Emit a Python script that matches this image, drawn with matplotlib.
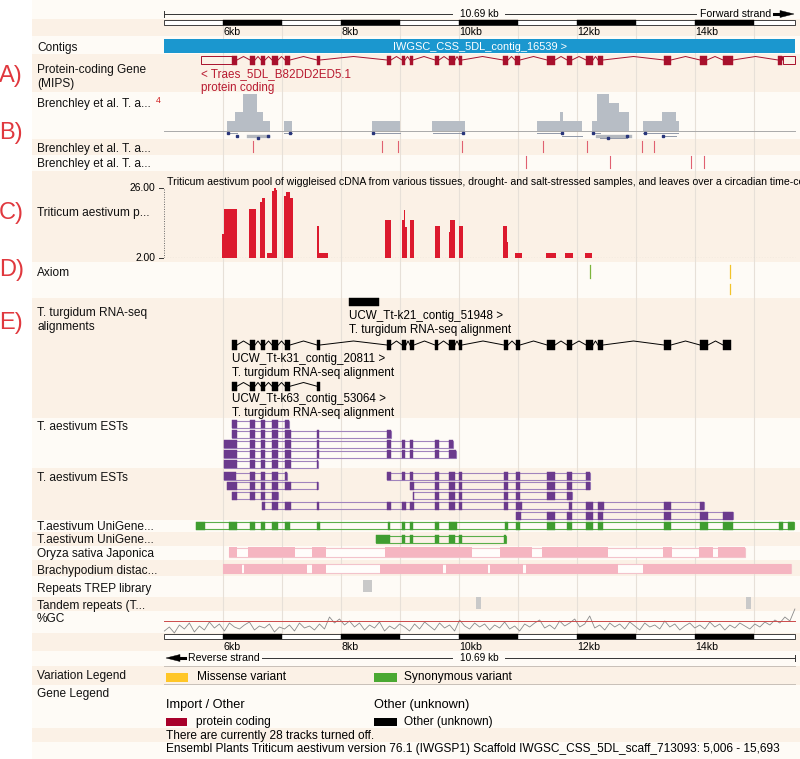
import matplotlib
matplotlib.use('Agg')
import matplotlib.pyplot as plt
from matplotlib.patches import Rectangle, Polygon
import numpy as np

plt.rcParams['font.family'] = ['Liberation Sans', 'DejaVu Sans']

# ---------------- layout helpers (pixel -> kb on the 59 px/kb scale) -------------
def kb(px):
    return 6 + (px - 223) / 59.0

# ---------------- data ----------------
REGION = (5.006, 15.693)
TICKS_KB = [6, 8, 10, 12, 14]
TICK_LABELS = ['6kb', '8kb', '10kb', '12kb', '14kb']
RULER_BLACK = [(6, 7), (8, 9), (10, 11), (12, 13), (14, 15)]
GRID_KB = [6, 7, 8, 9, 10, 11, 12, 13, 14, 15]
LENGTH_LABEL = '10.69 kb'

CONTIG_NAME = 'IWGSC_CSS_5DL_contig_16539 >'

GENE_NAME = '< Traes_5DL_B82DD2ED5.1'
GENE_BIOTYPE = 'protein coding'
GENE_UTR = [(5.627, 6.153), (15.492, 15.690)]
GENE_EXONS = [(6.153, 6.237), (6.458, 6.542), (6.644, 6.712), (6.831, 6.932), (7.051, 7.136),
              (7.593, 7.644), (8.780, 8.847), (9.034, 9.085), (9.169, 9.220), (9.593, 9.661),
              (9.831, 9.932), (10.000, 10.051), (10.746, 10.831), (10.949, 11.034), (11.492, 11.627),
              (11.831, 11.915), (12.153, 12.271), (12.356, 12.441), (13.475, 13.593), (14.085, 14.203),
              (14.475, 14.644), (15.407, 15.475)]

# Brenchley coverage (start kb, end kb, depth)
COV_START = [6.068, 6.204, 6.339, 6.576, 6.678, 7.034, 8.525, 9.542, 11.322, 11.712, 11.763,
             12.254, 12.339, 12.542, 12.712, 13.119, 13.441, 13.678]
COV_END = [6.204, 6.339, 6.576, 6.678, 6.797, 7.169, 9.000, 10.102, 11.712, 11.763, 12.085,
           12.339, 12.542, 12.712, 12.881, 13.441, 13.678, 13.729]
COV_DEPTH = [1, 2, 4, 2, 1, 1, 1, 1, 1, 2, 1, 1, 4, 3, 2, 1, 2, 1]

READ_START = [6.085, 6.424, 7.034, 8.525, 9.559, 11.322, 11.746, 12.254, 12.339, 12.390, 13.119, 13.458]
READ_END = [6.237, 6.763, 7.169, 9.000, 10.068, 11.746, 12.085, 12.390, 12.898, 12.847, 13.712, 13.678]
READ_ROW = [0, 1, 0, 0, 0, 0, 1, 0, 1, 2, 0, 1]
READ_THICK = [0, 1, 0, 0, 0, 0, 0, 0, 1, 0, 0, 0]
READ_DOTS = [6.085, 6.237, 6.593, 6.763, 7.136, 8.542, 10.068, 11.746, 12.271, 12.525, 12.847,
             13.153, 13.458]
READ_DOT_ROW = [0, 1, 2, 1, 0, 0, 0, 0, 0, 2, 1, 0, 1]

SNP_TRACK2 = [6.508, 8.695, 8.966, 10.051, 11.424, 12.169, 13.102, 13.305]
SNP_TRACK3 = [11.136, 12.559, 13.932, 14.153]

# Wiggle cDNA track (start kb, end kb, value)
WIG_START = [5.983, 6.017, 6.441, 6.627, 6.661, 6.746, 6.831, 6.865, 6.898, 7.034, 7.068, 7.136,
             7.593, 7.627, 8.746, 9.034, 9.068, 9.085, 9.169, 9.593, 9.831, 9.848, 10.000,
             10.746, 10.814, 10.949, 11.475, 11.797, 12.136]
WIG_END = [6.017, 6.237, 6.559, 6.661, 6.712, 6.831, 6.865, 6.898, 6.915, 7.068, 7.136, 7.186,
           7.627, 7.780, 8.847, 9.068, 9.085, 9.119, 9.237, 9.678, 9.848, 9.932, 10.068,
           10.814, 10.831, 11.068, 11.644, 11.932, 12.254]
WIG_VALUE = [10.5, 18.8, 18.8, 21.4, 22.6, 3.9, 25.0, 26.2, 25.4, 23.4, 24.6, 22.8,
             13.1, 3.7, 15.1, 15.1, 18.6, 12.8, 15.1, 13.1, 11.0, 15.1, 13.1,
             13.1, 7.7, 3.7, 3.7, 3.7, 3.7]
WIG_TITLE = ('Triticum aestivum pool of wiggleised cDNA from various tissues, drought- and '
             'salt-stressed samples, and leaves over a circadian time-course')

AXIOM_SYNONYMOUS = [12.220]
AXIOM_MISSENSE = [14.593]

K21_EXONS = [(8.136, 8.644)]
K31_EXONS = [(6.153, 6.237), (6.458, 6.542), (6.644, 6.712), (6.831, 6.932), (7.051, 7.136),
             (7.593, 7.644), (8.780, 8.847), (9.034, 9.102), (9.169, 9.237), (9.593, 9.644),
             (9.831, 9.932), (10.000, 10.051), (10.763, 10.831), (10.966, 11.034), (11.492, 11.627),
             (11.831, 11.915), (12.153, 12.271), (12.356, 12.441), (13.475, 13.593), (14.085, 14.220),
             (14.475, 14.610)]
K63_EXONS = [(6.153, 6.237), (6.458, 6.542), (6.644, 6.712), (6.831, 6.932), (7.051, 7.136),
             (7.593, 7.644)]
RNA_NAMES = ['UCW_Tt-k21_contig_51948 >', 'UCW_Tt-k31_contig_20811 >', 'UCW_Tt-k63_contig_53064 >']
RNA_DESC = 'T. turgidum RNA-seq alignment'

EST_ROWS = [
    [[(6.153, 6.237), (6.458, 6.542), (6.644, 6.712), (6.831, 6.932), (7.051, 7.119)]],
    [[(6.153, 6.237), (6.458, 6.542), (6.644, 6.712), (6.831, 6.932), (7.051, 7.153), (7.593, 7.627),
      (8.780, 8.847)]],
    [[(6.017, 6.237), (6.458, 6.542), (6.644, 6.712), (6.831, 6.932), (7.051, 7.153), (7.593, 7.627),
      (8.780, 8.847), (9.034, 9.085), (9.169, 9.220), (9.593, 9.661), (9.831, 9.898)]],
    [[(6.017, 6.237), (6.458, 6.542), (6.644, 6.712), (6.831, 6.932), (7.051, 7.153), (7.593, 7.627),
      (8.780, 8.847), (9.034, 9.085), (9.169, 9.220), (9.593, 9.661), (9.831, 9.949)]],
    [[(6.017, 6.237), (6.458, 6.542), (6.644, 6.712), (6.831, 6.932), (7.051, 7.153), (7.593, 7.610)]],
    [[(6.017, 6.220), (6.458, 6.542), (6.644, 6.712), (6.831, 6.932), (7.051, 7.085)],
     [(8.780, 8.847), (9.034, 9.085), (9.169, 9.220), (9.593, 9.661), (9.831, 9.932), (10.000, 10.051),
      (10.763, 10.831), (10.966, 11.034), (11.492, 11.627), (11.831, 11.915), (12.153, 12.220)]],
    [[(6.068, 6.237), (6.458, 6.542), (6.644, 6.712), (6.831, 6.932), (7.051, 7.153), (7.593, 7.610)],
     [(9.169, 9.237), (9.593, 9.661), (9.831, 9.932), (10.000, 10.051), (10.763, 10.831),
      (10.966, 11.034), (11.492, 11.627), (11.831, 11.915), (12.153, 12.220)]],
    [[(6.153, 6.237), (6.458, 6.542), (6.644, 6.712), (6.831, 6.932)],
     [(9.220, 9.237), (9.593, 9.661), (9.831, 9.932), (10.000, 10.051), (10.763, 10.831),
      (10.966, 11.034), (11.492, 11.627), (11.831, 11.915)]],
    [[(6.661, 6.712), (6.831, 6.932), (7.051, 7.153), (7.593, 7.627), (8.780, 8.847), (9.034, 9.102),
      (9.169, 9.237), (9.593, 9.661), (9.831, 9.932), (10.000, 10.051), (10.763, 10.831),
      (10.966, 11.068), (11.864, 11.915), (12.153, 12.271), (12.356, 12.458), (13.475, 13.593),
      (14.085, 14.153)]],
    [[(10.966, 11.051), (11.492, 11.627), (11.831, 11.915), (12.153, 12.271), (12.356, 12.441),
      (13.475, 13.593), (14.085, 14.220), (14.475, 14.644)]],
]

UNIGENE1 = [(5.542, 5.695), (6.102, 6.237), (6.458, 6.542), (6.644, 6.712), (6.831, 6.932),
            (7.051, 7.136), (7.593, 7.644), (8.797, 8.831), (9.034, 9.085), (9.169, 9.220),
            (9.593, 9.661), (9.831, 9.966), (10.780, 10.831), (10.966, 11.034), (11.492, 11.627),
            (11.831, 11.915), (12.153, 12.271), (12.356, 12.441), (13.475, 13.593), (14.085, 14.220),
            (14.475, 14.644), (15.424, 15.492), (15.576, 15.678)]
UNIGENE2 = [(8.593, 8.831), (9.034, 9.085), (9.169, 9.220), (9.593, 9.661), (9.831, 9.932),
            (10.000, 10.051), (10.763, 10.797)]

ORYZA = [(6.102, 6.237), (6.424, 7.220), (7.508, 7.746), (8.746, 10.220), (10.695, 11.237),
         (11.407, 12.525), (13.458, 13.610), (14.068, 14.305), (14.390, 14.847)]
BRACHY = [(6.000, 6.322), (6.356, 7.424), (7.508, 7.746), (8.661, 9.729), (9.780, 10.492),
          (10.525, 11.085), (11.136, 12.695), (13.119, 15.627)]
REPEATS_TREP = [(8.373, 8.525)]
TANDEM = [(10.288, 10.373), (14.864, 14.949)]

GC_PCT = [36, 40, 34, 42, 38, 44, 35, 41, 37, 45, 39, 43, 36, 44, 40, 38, 42, 45, 37, 41, 39, 43, 35, 40,
          38, 42, 36, 44, 39, 41, 37, 43, 38, 50, 44, 48, 42, 46, 40, 44, 37, 42, 39, 45, 36, 41, 38, 43,
          40, 36, 43, 38, 45, 41, 37, 44, 39, 42, 36, 47, 41, 38, 44, 40, 43, 37, 42, 39,
          45, 38, 41, 36, 43, 40, 44, 47, 39, 42, 38, 46, 41, 44, 48, 40, 43, 51, 39, 42,
          37, 44, 40, 43, 38, 45, 41, 37, 44, 40, 42, 38, 46, 40, 43, 37, 41, 44, 39, 42,
          38, 45, 40, 43, 37, 42, 39, 44, 41, 38, 43, 40, 45, 42, 47, 44, 50, 46, 58]
GC_LINE = 46

TRACK_LABELS = [
    ('Contigs', 47.5), ('Protein-coding Gene', 70), ('(MIPS)', 84), ('Brenchley et al. T. a...', 104),
    ('Brenchley et al. T. a...', 149), ('Brenchley et al. T. a...', 164.5), ('Triticum aestivum p...', 213),
    ('Axiom', 273), ('T. turgidum RNA-seq', 313), ('alignments', 327), ('T. aestivum ESTs', 426.5),
    ('T. aestivum ESTs', 478), ('T.aestivum UniGene...', 526.5), ('T.aestivum UniGene...', 540),
    ('Oryza sativa Japonica', 554.5), ('Brachypodium distac...', 571), ('Repeats TREP library', 589),
    ('Tandem repeats (T...', 605.5), ('%GC', 619.5), ('Variation Legend', 676), ('Gene Legend', 693.5),
]
PANEL_LETTERS = [('A)', 76), ('B)', 133), ('C)', 213), ('D)', 270), ('E)', 323)]

# ---------------- colours ----------------
LIGHT = '#fefbf6'
DARK = '#fbf1e6'
GENE_RED = '#a8102c'
TEXT_RED = '#b81a30'
BAR_RED = '#dc1a2e'
PURPLE = '#6b3a8d'
PURPLE_EDGE = '#a184bd'
GREEN = '#3f9d30'
PINK = '#f5b5c1'
PINK_EDGE = '#f3c3cb'

BANDS = [(0, 19, 0), (19, 36, 1), (36, 54, 0), (54, 92, 1), (92, 139, 0), (139, 155, 1), (155, 171, 0),
         (171, 262, 1), (262, 298, 0), (298, 418, 1), (418, 468, 0), (468, 520, 1), (520, 532, 0),
         (532, 546, 1), (546, 560, 0), (560, 576, 1), (576, 597, 0), (597, 611, 1), (611, 633, 0),
         (633, 651, 1), (651, 666, 0), (666, 685, 1), (685, 728, 0), (728, 742, 1), (742, 759, 0)]

# ---------------- figure ----------------
W, H = 800, 759
fig = plt.figure(figsize=(W / 100, H / 100), dpi=100)
fig.patch.set_facecolor('white')
ax = fig.add_axes([0, 0, 1, 1])
ax.set_xlim(kb(0), kb(W))
ax.set_ylim(H, 0)
ax.axis('off')

FS = 8.6
LX = kb(37)

for y0, y1, d in BANDS:
    ax.add_patch(Rectangle((kb(32), y0), kb(W) - kb(32), y1 - y0, fc=DARK if d else LIGHT, ec='none', zorder=0))

for g in GRID_KB:
    ax.plot([g, g], [24, 633], color='#e7e0d8', lw=0.8, zorder=0.5)

for text, y in TRACK_LABELS:
    ax.text(LX, y, text, fontsize=FS, va='center', ha='left', color='#111111')
ax.text(kb(156), 100.5, '4', fontsize=6.2, color='#d02020', va='center', ha='left')
for text, y in PANEL_LETTERS:
    ax.text(kb(-1), y, text, fontsize=17, color='#e0383e', va='center', ha='left')

# ---------------- rulers ----------------
def ruler_bar(ytop):
    ax.add_patch(Rectangle((REGION[0], ytop), REGION[1] - REGION[0], 4.5, fc='white', ec='#222222', lw=0.6, zorder=2))
    for s, e in RULER_BLACK:
        ax.add_patch(Rectangle((s, ytop), min(e, REGION[1]) - s, 4.5, fc='black', ec='black', lw=0.3, zorder=2))

mid = (REGION[0] + REGION[1]) / 2
# top
ax.plot([REGION[0], REGION[0]], [11, 17], color='#333', lw=0.7)
ax.plot([REGION[0], kb(452)], [14, 14], color='#333', lw=0.7)
ax.plot([kb(505), kb(696)], [14, 14], color='#333', lw=0.7)
ax.text(mid, 14, LENGTH_LABEL, fontsize=7.3, ha='center', va='center')
ax.text(kb(700), 14, 'Forward strand', fontsize=7.6, ha='left', va='center')
ax.plot([kb(774), kb(784)], [14, 14], color='black', lw=2.2)
ax.add_patch(Polygon([(kb(780), 10.5), (kb(794), 14), (kb(780), 17.5)], closed=True, fc='black', ec='black', lw=0.3))
ruler_bar(20)
for t, lab in zip(TICKS_KB, TICK_LABELS):
    ax.text(t, 32, lab, fontsize=7.6, ha='left', va='center')
# bottom
ruler_bar(634)
for t, lab in zip(TICKS_KB, TICK_LABELS):
    ax.text(t, 647, lab, fontsize=7.6, ha='left', va='center')
ax.add_patch(Polygon([(kb(166), 658), (kb(180), 654.5), (kb(180), 661.5)], closed=True, fc='black', ec='black', lw=0.3))
ax.plot([kb(176), kb(185)], [658, 658], color='black', lw=2.2)
ax.text(kb(188), 658, 'Reverse strand', fontsize=7.6, ha='left', va='center')
ax.plot([kb(262), kb(452)], [658, 658], color='#333', lw=0.7)
ax.plot([kb(505), REGION[1]], [658, 658], color='#333', lw=0.7)
ax.plot([REGION[1], REGION[1]], [655, 661], color='#333', lw=0.7)
ax.text(mid, 658, LENGTH_LABEL, fontsize=7.3, ha='center', va='center')

# ---------------- contig ----------------
ax.add_patch(Rectangle((REGION[0], 39), REGION[1] - REGION[0], 14, fc='#1b97cf', ec='none', zorder=2))
ax.text(mid, 46.5, CONTIG_NAME, fontsize=7.9, color='white', ha='center', va='center', zorder=3)

# ---------------- transcript helper ----------------
def transcript(exons, ytop, h, color, lw=0.7, hollow=()):
    yc = ytop + h / 2
    for s, e in hollow:
        ax.add_patch(Rectangle((s, ytop + 0.5), e - s, h - 1, fc='none', ec=color, lw=0.7, zorder=3))
    for s, e in exons:
        ax.add_patch(Rectangle((s, ytop), e - s, h, fc=color, ec=color, lw=0.3, zorder=3))
    chain = sorted(list(exons) + list(hollow))
    for (s0, e0), (s1, e1) in zip(chain[:-1], chain[1:]):
        if s1 - e0 > 0.005:
            m = (e0 + s1) / 2
            ax.plot([e0, m, s1], [yc, ytop + 1, yc], color=color, lw=lw, zorder=3)

# gene
transcript(GENE_EXONS, 55.5, 9, GENE_RED, hollow=GENE_UTR)
ax.text(GENE_UTR[0][0], 74, GENE_NAME, fontsize=8.4, color=TEXT_RED, ha='left', va='center')
ax.text(GENE_UTR[0][0], 88, GENE_BIOTYPE, fontsize=8.4, color=TEXT_RED, ha='left', va='center')

# ---------------- Brenchley coverage ----------------
def inset(ybottom_px, height_px, ylim):
    a = fig.add_axes([0, 1 - ybottom_px / H, 1, height_px / H])
    a.set_xlim(kb(0), kb(W))
    a.set_ylim(*ylim)
    a.axis('off')
    a.patch.set_alpha(0)
    return a

axc = inset(130.5, 37, (0, 4.1))
axc.bar(COV_START, COV_DEPTH, width=np.array(COV_END) - np.array(COV_START), align='edge',
        color='#b7bdc5', edgecolor='none')
ax.plot([REGION[0], REGION[1]], [130.5, 130.5], color='#a9a9a9', lw=0.7, zorder=2)
row_y = [133, 135.5, 137.5]
for s, e, r, t in zip(READ_START, READ_END, READ_ROW, READ_THICK):
    y = row_y[r]
    ax.plot([s, e], [y, y], color='#b4b8be' if t else '#9098a8', lw=2.4 if t else 0.7, zorder=3)
for x, r in zip(READ_DOTS, READ_DOT_ROW):
    ax.plot([x], [row_y[r]], ls='none', marker='s', ms=1.7, color='#28357a', zorder=4)

for x in SNP_TRACK2:
    ax.plot([x, x], [141, 152], color='#e06070', lw=0.8)
for x in SNP_TRACK3:
    ax.plot([x, x], [156, 168], color='#e06070', lw=0.8)

# ---------------- wiggle cDNA ----------------
axw = inset(258.3, 70, (2, 26))
axw.bar(WIG_START, np.array(WIG_VALUE) - 2, width=np.array(WIG_END) - np.array(WIG_START), bottom=2,
        align='edge', color=BAR_RED, edgecolor='none')
axw.plot([REGION[0], REGION[1]], [2, 2], color='#888888', lw=0.8, ls=(0, (1, 1.5)))
axw.plot([REGION[0], REGION[0]], [2, 26], color='#666666', lw=0.7, ls=(0, (1, 1.5)))
for v in (26, 2):
    axw.text(kb(155), v, '%.2f' % v, fontsize=7.4, ha='right', va='center')
    axw.plot([kb(159), kb(163)], [v, v], color='#333', lw=0.7, clip_on=False)
ax.text(kb(167), 182, WIG_TITLE, fontsize=7.55, ha='left', va='center', clip_on=True)

# ---------------- Axiom ----------------
for x in AXIOM_SYNONYMOUS:
    ax.plot([x, x], [265, 278], color='#7db43c', lw=0.9)
for x in AXIOM_MISSENSE:
    ax.plot([x, x], [265, 278], color='#f2c32a', lw=0.9)
    ax.plot([x, x], [284, 294], color='#f2c32a', lw=0.9)

# ---------------- RNA-seq ----------------
RNA_SETS = [K21_EXONS, K31_EXONS, K63_EXONS]
transcript(K21_EXONS, 298, 8, 'black')
transcript(K31_EXONS, 340, 10, 'black')
transcript(K63_EXONS, 381.5, 9.5, 'black')
for exons, name, y1 in zip(RNA_SETS, RNA_NAMES, [316.5, 359, 399]):
    ax.text(exons[0][0], y1, name, fontsize=8.4, ha='left', va='center')
    ax.text(exons[0][0], y1 + 14, RNA_DESC, fontsize=8.4, ha='left', va='center')

# ---------------- ESTs ----------------
est_tops = [420, 430, 440, 450, 460, 472, 481.5, 491.5, 501.5, 511.5]
for feats, yt in zip(EST_ROWS, est_tops):
    for ex in feats:
        ax.add_patch(Rectangle((ex[0][0], yt + 0.5), ex[-1][1] - ex[0][0], 7, fc='none', ec=PURPLE_EDGE,
                               lw=0.8, zorder=3))
        for s, e in ex:
            ax.add_patch(Rectangle((s, yt), e - s, 8, fc=PURPLE, ec=PURPLE, lw=0.3, zorder=4))

# ---------------- UniGene ----------------
for ex, yt in [(UNIGENE1, 521.5), (UNIGENE2, 535)]:
    ax.add_patch(Rectangle((ex[0][0], yt + 0.5), ex[-1][1] - ex[0][0], 7, fc='none', ec='#5aae4a', lw=0.8, zorder=3))
    for s, e in ex:
        ax.add_patch(Rectangle((s, yt), e - s, 8, fc=GREEN, ec=GREEN, lw=0.3, zorder=4))

# ---------------- Oryza / Brachypodium ----------------
for segs, yt in [(ORYZA, 547), (BRACHY, 563.5)]:
    ax.add_patch(Rectangle((segs[0][0], yt + 0.5), segs[-1][1] - segs[0][0], 9, fc='#fffdfb', ec=PINK_EDGE,
                           lw=0.8, zorder=3))
    for s, e in segs:
        ax.add_patch(Rectangle((s, yt), e - s, 10, fc=PINK, ec='none', zorder=4))

for s, e in REPEATS_TREP:
    ax.add_patch(Rectangle((s, 580), e - s, 12, fc='#c9c9c9', ec='none', zorder=3))
for s, e in TANDEM:
    ax.add_patch(Rectangle((s, 597), e - s, 12, fc='#c9c9c9', ec='none', zorder=3))

# ---------------- %GC ----------------
GC_SCALE = 1.0   # px per percent
gc_bottom = GC_LINE - (632.2 - 621) / GC_SCALE
axg = inset(632.2, 22, (gc_bottom, gc_bottom + 22 / GC_SCALE))
gx = np.linspace(REGION[0], REGION[1], len(GC_PCT))
axg.plot(gx, GC_PCT, color='#8a8a8a', lw=0.6, clip_on=False)
axg.plot([REGION[0], REGION[1]], [GC_LINE, GC_LINE], color='#cc4a4a', lw=0.7)

# ---------------- legends ----------------
ax.plot([REGION[0], REGION[1]], [666, 666], color='#c8c0b8', lw=0.7)
ax.plot([REGION[0], REGION[1]], [684, 684], color='#c8c0b8', lw=0.7)
ax.add_patch(Rectangle((kb(166), 673), kb(188) - kb(166), 8.5, fc='#ffc627', ec='none'))
ax.text(kb(197), 677, 'Missense variant', fontsize=FS, ha='left', va='center')
ax.add_patch(Rectangle((kb(374), 673), kb(397) - kb(374), 8.5, fc='#4aa832', ec='none'))
ax.text(kb(404), 677, 'Synonymous variant', fontsize=FS, ha='left', va='center')
ax.text(kb(166), 705, 'Import / Other', fontsize=9.2, ha='left', va='center')
ax.text(kb(374), 705, 'Other (unknown)', fontsize=9.2, ha='left', va='center')
ax.add_patch(Rectangle((kb(166), 717.5), kb(187) - kb(166), 8, fc='#a8002a', ec='none'))
ax.text(kb(196), 721.5, 'protein coding', fontsize=FS, ha='left', va='center')
ax.add_patch(Rectangle((kb(374), 717.5), kb(397) - kb(374), 8, fc='black', ec='none'))
ax.text(kb(404), 721.5, 'Other (unknown)', fontsize=FS, ha='left', va='center')
ax.text(kb(166), 735.5, 'There are currently 28 tracks turned off.', fontsize=FS, ha='left', va='center')
ax.text(kb(166), 749, 'Ensembl Plants Triticum aestivum version 76.1 (IWGSP1) Scaffold '
        'IWGSC_CSS_5DL_scaff_713093: 5,006 - 15,693', fontsize=FS, ha='left', va='center')

fig.savefig('out.png', dpi=100)
